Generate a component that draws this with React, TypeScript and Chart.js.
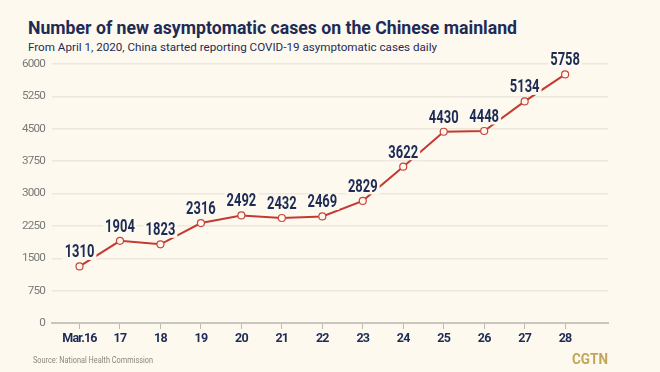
import React, { useEffect, useLayoutEffect, useRef } from "react";
import { Chart, registerables } from "chart.js";

Chart.register(...registerables);

const dates = ["Mar.16", "17", "18", "19", "20", "21", "22", "23", "24", "25", "26", "27", "28"];
const newCases = [1310, 1904, 1823, 2316, 2492, 2432, 2469, 2829, 3622, 4430, 4448, 5134, 5758];
const yTicks = [0, 750, 1500, 2250, 3000, 3750, 4500, 5250, 6000];

const BG = "#FDF9EF";
const NAVY = "#1D2B55";
const FONT = "Roboto, 'Noto Sans', sans-serif";

const spacingPlugin = {
  id: "tightText",
  beforeDraw(chart: any) {
    (chart.ctx as any).letterSpacing = "-0.8px";
  },
  beforeDatasetsDraw(chart: any) {
    (chart.ctx as any).letterSpacing = "0px";
  },
};

const labelPlugin = {
  id: "valueLabels",
  afterDatasetsDraw(chart: any) {
    const ctx = chart.ctx;
    const meta = chart.getDatasetMeta(0);
    const sx = 0.72;
    ctx.save();
    ctx.font = `bold 18px ${FONT}`;
    ctx.textAlign = "center";
    ctx.textBaseline = "middle";
    meta.data.forEach((pt: any, i: number) => {
      const txt = String(newCases[i]);
      const w = ctx.measureText(txt).width * sx;
      const x = pt.x;
      const y = pt.y - 14.5;
      ctx.fillStyle = BG;
      ctx.fillRect(x - w / 2 - 2, y - 8, w + 4, 16);
      ctx.save();
      ctx.translate(x, y);
      ctx.scale(sx, 1);
      ctx.fillStyle = NAVY;
      ctx.fillText(txt, 0, 1);
      ctx.restore();
    });
    ctx.restore();
  },
};

function FitText(props: { text: string; left: number; top: number; width: number; style: any }) {
  const ref = useRef<HTMLSpanElement>(null);
  useLayoutEffect(() => {
    const el = ref.current!;
    el.style.transform = "none";
    const w = el.getBoundingClientRect().width;
    if (w > 0) el.style.transform = `scaleX(${props.width / w})`;
  }, [props.text, props.width]);
  return (
    <span
      ref={ref}
      style={{
        position: "absolute",
        left: props.left,
        top: props.top,
        whiteSpace: "nowrap",
        transformOrigin: "0 0",
        display: "inline-block",
        fontFamily: FONT,
        ...props.style,
      }}
    >
      {props.text}
    </span>
  );
}

export default function App() {
  const ref = useRef<HTMLCanvasElement>(null);
  useEffect(() => {
    const chart = new Chart(ref.current!, {
      type: "line",
      data: {
        datasets: [
          {
            data: newCases.map((v, i) => ({ x: i, y: v })),
            borderColor: "#C43A31",
            borderWidth: 2,
            pointRadius: 3.5,
            pointBackgroundColor: "#FFF9F2",
            pointBorderColor: "#C8453C",
            pointBorderWidth: 1.2,
            tension: 0,
          },
        ],
      },
      options: {
        animation: false,
        responsive: false,
        maintainAspectRatio: false,
        layout: { padding: { left: 0, right: 52, top: 64, bottom: 0 } },
        plugins: { legend: { display: false }, tooltip: { enabled: false } },
        scales: {
          x: {
            type: "linear",
            min: -0.68,
            max: 13.06,
            afterBuildTicks: (s: any) => {
              s.ticks = dates.map((_, i) => ({ value: i }));
            },
            afterFit: (s: any) => {
              s.height = 49;
            },
            ticks: {
              callback: (v: any) => dates[v],
              color: NAVY,
              font: { family: FONT, size: 12.5, weight: "bold" },
              padding: 2,
              maxRotation: 0,
              autoSkip: false,
            },
            grid: {
              drawOnChartArea: false,
              drawTicks: true,
              tickLength: 6,
              color: "#BDBAB2",
            },
            border: { display: true, color: "#C9C6BE", width: 2 },
          },
          y: {
            min: 0,
            max: 6000,
            afterBuildTicks: (s: any) => {
              s.ticks = yTicks.map((v) => ({ value: v }));
            },
            afterFit: (s: any) => {
              s.width = 52;
            },
            ticks: {
              callback: (v: any) => String(v),
              color: "#7A7A7A",
              font: { family: FONT, size: 11.7 },
              padding: 7,
            },
            grid: { color: "#ECE8DE", lineWidth: 1.5, drawTicks: false },
            border: { display: false },
          },
        },
      },
      plugins: [spacingPlugin, labelPlugin],
    } as any);
    return () => chart.destroy();
  }, []);

  return (
    <div
      style={{
        position: "fixed",
        left: 0,
        top: 0,
        width: 660,
        height: 372,
        background: BG,
        overflow: "hidden",
      }}
    >
      <FitText
        text="Number of new asymptomatic cases on the Chinese mainland"
        left={28}
        top={19}
        width={489}
        style={{ fontWeight: "bold", fontSize: 18, color: NAVY, lineHeight: "18px" }}
      />
      <FitText
        text="From April 1, 2020, China started reporting COVID-19 asymptomatic cases daily"
        left={28}
        top={42}
        width={409}
        style={{ fontSize: 11.5, color: NAVY, lineHeight: "11.5px" }}
      />
      <canvas ref={ref} width={660} height={372} style={{ position: "absolute", left: 0, top: 0 }} />
      <FitText
        text="Source: National Health Commission"
        left={33}
        top={355}
        width={120}
        style={{ fontSize: 8.5, color: "#8A8780", lineHeight: "11px" }}
      />
      <FitText
        text="CGTN"
        left={572}
        top={351.5}
        width={36}
        style={{ fontWeight: "bold", fontSize: 14, color: "#C2A557", lineHeight: "14px" }}
      />
    </div>
  );
}
